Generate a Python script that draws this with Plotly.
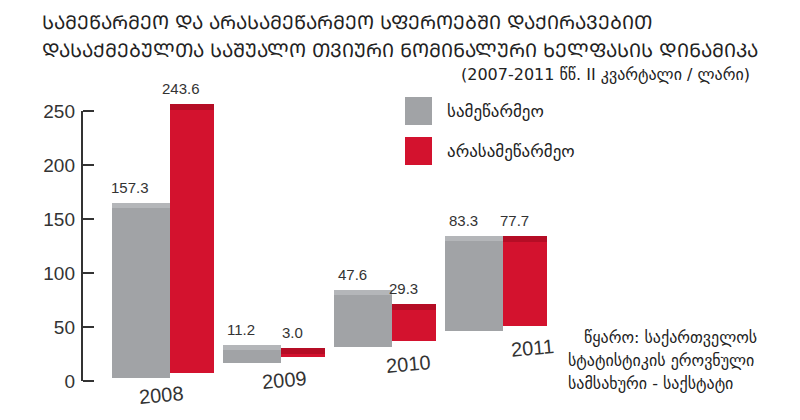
import plotly.graph_objects as go

# ---------------- data ----------------
years = ["2008", "2009", "2010", "2011"]
business = [157.3, 11.2, 47.6, 83.3]          # სამეწარმეო
nonbusiness = [243.6, 3.0, 29.3, 77.7]        # არასამეწარმეო
series_names = ["სამეწარმეო", "არასამეწარმეო"]
value_labels_b = ["157.3", "11.2", "47.6", "83.3"]
value_labels_n = ["243.6", "3.0", "29.3", "77.7"]
y_ticks = [0, 50, 100, 150, 200, 250]

title_lines = ["სამეწარმეო და არასამეწარმეო სფეროებში დაქირავებით",
               "დასაქმებულთა საშუალო თვიური ნომინალური ხელფასის დინამიკა"]
subtitle = "(2007-2011 წწ. II კვარტალი / ლარი)"
source_lines = ["წყარო: საქართველოს", "სტატისტიკის ეროვნული", "სამსახური - საქსტატი"]


def mtavruli(s):
    return "".join(chr(ord(c) + 0xBC0) if 0x10D0 <= ord(c) <= 0x10F0 else c for c in s)


# ---------------- style / pseudo-3D perspective ----------------
W, H = 800, 420
FONT = "Liberation Sans, Arial, DejaVu Sans, sans-serif"
GEO = "DejaVu Sans, Noto Sans, sans-serif"
GRAY, GRAY_TOP = "#a1a3a6", "#b4b6b9"
RED, RED_TOP = "#d3122e", "#b50d25"
TXT = "#333333"

floor_base, floor_step = 2.5, 14.6   # perspective floor rise per year (axis units)
depth_shift = 5.0                    # back series sits slightly higher
cap = 5.0                            # visible top face thickness
px_per_unit = 1.08
zero_px = 381
axis_px = 82
cat_px0, cat_step = 170, 111

idx = list(range(len(years)))
floor_b = [floor_base + floor_step * i for i in idx]
floor_n = [f + depth_shift for f in floor_b]

fig = go.Figure()
# front faces
fig.add_bar(x=idx, y=business, base=floor_b, offset=-0.52, width=0.52,
            marker=dict(color=GRAY, line=dict(width=0)), name=series_names[0], showlegend=False)
fig.add_bar(x=idx, y=nonbusiness, base=floor_n, offset=0.0, width=0.40,
            marker=dict(color=RED, line=dict(width=0)), name=series_names[1], showlegend=False)
# top faces
fig.add_bar(x=idx, y=[cap] * len(idx), base=[f + v for f, v in zip(floor_b, business)],
            offset=-0.52, width=0.52, marker=dict(color=GRAY_TOP, line=dict(width=0)),
            showlegend=False, hoverinfo="skip")
fig.add_bar(x=idx, y=[cap] * len(idx), base=[f + v for f, v in zip(floor_n, nonbusiness)],
            offset=0.0, width=0.40, marker=dict(color=RED_TOP, line=dict(width=0)),
            showlegend=False, hoverinfo="skip")

ann = []
# value labels
for i in idx:
    ann.append(dict(x=i - 0.26, y=floor_b[i] + business[i] + cap, xref="x", yref="y",
                    text=value_labels_b[i], showarrow=False, yanchor="bottom", yshift=5, xshift=-11,
                    font=dict(family=FONT, size=15, color=TXT)))
    ann.append(dict(x=i + 0.20, y=floor_n[i] + nonbusiness[i] + cap, xref="x", yref="y",
                    text=value_labels_n[i], showarrow=False, yanchor="bottom", yshift=5, xshift=-11,
                    font=dict(family=FONT, size=15, color=TXT)))
# year labels under each perspective floor
for i in idx:
    ann.append(dict(x=i - 0.08 + 0.115 * i, y=floor_b[i], xref="x", yref="y", text=years[i],
                    showarrow=False, yanchor="middle", yshift=-17, textangle=-5,
                    font=dict(family=FONT, size=20, color=TXT)))


def px(xp):
    return xp / W


def py(yp):
    return 1 - yp / H


# title
ann.append(dict(x=px(40), y=py(22), xref="paper", yref="paper", xanchor="left", yanchor="middle",
                text=mtavruli(title_lines[0]), showarrow=False,
                font=dict(family=GEO, size=19, color="#222222")))
ann.append(dict(x=px(40), y=py(50), xref="paper", yref="paper", xanchor="left", yanchor="middle",
                text=mtavruli(title_lines[1]), showarrow=False,
                font=dict(family=GEO, size=19, color="#222222")))
ann.append(dict(x=px(752), y=py(74), xref="paper", yref="paper", xanchor="right", yanchor="middle",
                text=subtitle, showarrow=False, font=dict(family=GEO, size=16, color="#222222")))
# legend
ann.append(dict(x=px(445), y=py(111), xref="paper", yref="paper", xanchor="left", yanchor="middle",
                text=series_names[0], showarrow=False, font=dict(family=GEO, size=17, color="#222222")))
ann.append(dict(x=px(445), y=py(151), xref="paper", yref="paper", xanchor="left", yanchor="middle",
                text=series_names[1], showarrow=False, font=dict(family=GEO, size=17, color="#222222")))
# source
for (xx, yy), line in zip([(582, 337), (566, 360), (566, 383)], source_lines):
    ann.append(dict(x=px(xx), y=py(yy), xref="paper", yref="paper", xanchor="left", yanchor="middle",
                    text=line, showarrow=False, font=dict(family=GEO, size=16, color="#222222")))

shapes = [
    dict(type="rect", xref="paper", yref="paper", x0=px(405), x1=px(432), y0=py(125), y1=py(97),
         fillcolor=GRAY, line=dict(width=0)),
    dict(type="rect", xref="paper", yref="paper", x0=px(405), x1=px(432), y0=py(165), y1=py(137),
         fillcolor=RED, line=dict(width=0)),
    dict(type="line", xref="paper", yref="y", x0=px(axis_px), x1=px(axis_px), y0=y_ticks[0], y1=y_ticks[-1],
         line=dict(color="#333333", width=2)),
]

fig.update_layout(
    width=W, height=H, margin=dict(l=0, r=0, t=0, b=0),
    paper_bgcolor="white", plot_bgcolor="white",
    barmode="overlay", bargap=0,
    annotations=ann, shapes=shapes, showlegend=False,
    xaxis=dict(range=[(0 - cat_px0) / cat_step, (W - cat_px0) / cat_step], visible=False, fixedrange=True),
    yaxis=dict(range=[-(H - zero_px) / px_per_unit, zero_px / px_per_unit],
               anchor="free", position=axis_px / W, showgrid=False, zeroline=False, showline=False,
               tickvals=y_ticks, ticks="inside", ticklen=11, tickwidth=2, tickcolor="#333333",
               ticklabelstandoff=7, tickfont=dict(family=FONT, size=19, color=TXT), fixedrange=True),
)

fig.write_html("out.html", config={"displayModeBar": False})
